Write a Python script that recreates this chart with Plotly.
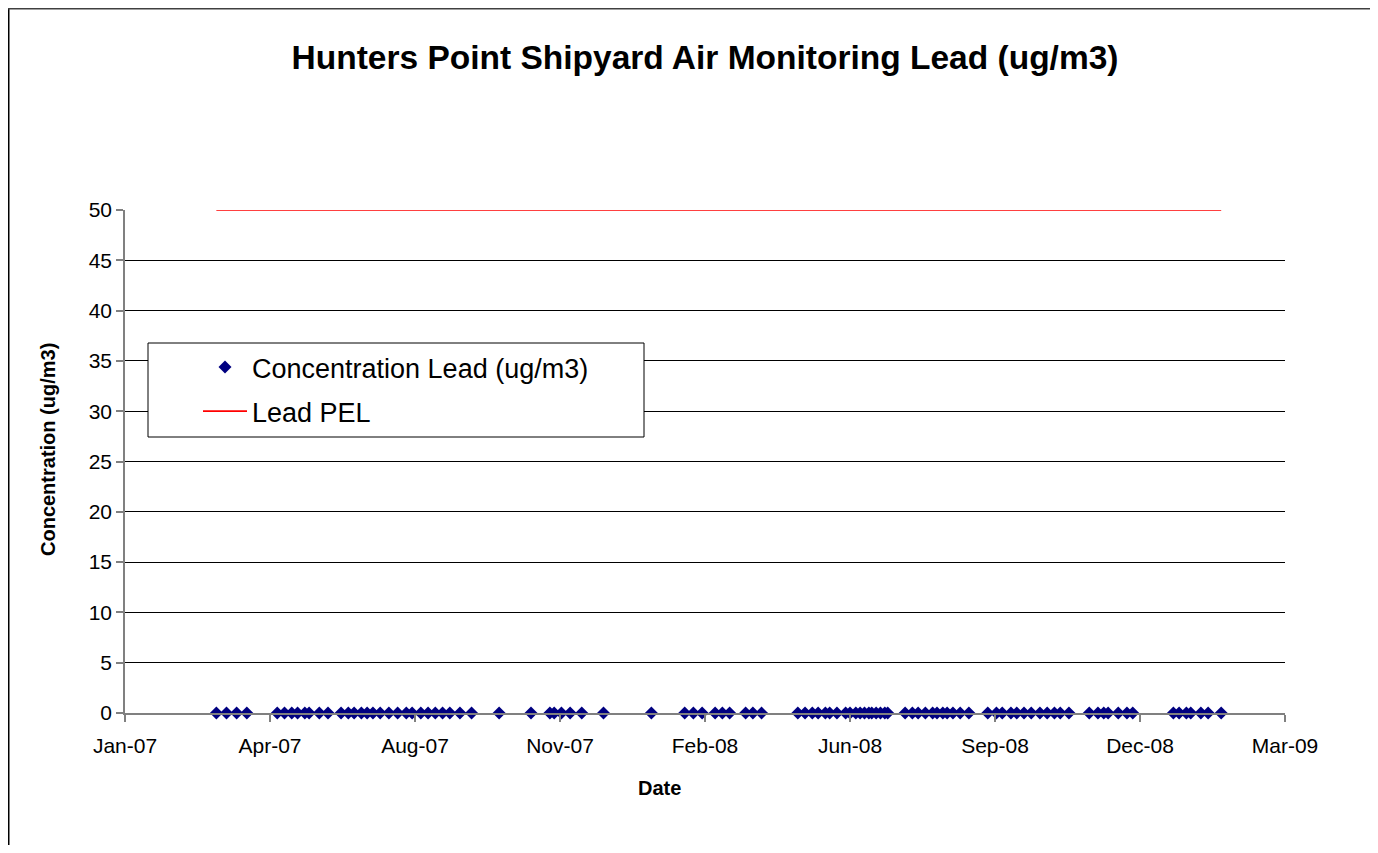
import plotly.graph_objects as go

# ---- data ----
conc_dates = [
    "2007-03-22", "2007-03-29", "2007-04-05", "2007-04-12",
    "2007-05-03", "2007-05-08", "2007-05-13", "2007-05-17", "2007-05-22", "2007-05-25",
    "2007-06-01", "2007-06-07", "2007-06-16", "2007-06-21", "2007-06-25", "2007-06-30",
    "2007-07-04", "2007-07-08", "2007-07-13", "2007-07-19", "2007-07-25", "2007-07-31",
    "2007-08-04", "2007-08-10", "2007-08-15", "2007-08-20", "2007-08-25", "2007-08-30",
    "2007-09-06", "2007-09-14", "2007-10-03",
    "2007-10-25", "2007-11-07", "2007-11-10", "2007-11-15", "2007-11-21", "2007-11-29",
    "2007-12-14", "2008-01-16",
    "2008-02-08", "2008-02-14", "2008-02-20", "2008-02-29", "2008-03-05", "2008-03-10",
    "2008-03-21", "2008-03-26", "2008-04-01",
    "2008-04-26", "2008-05-01", "2008-05-06", "2008-05-10", "2008-05-15", "2008-05-18",
    "2008-05-23", "2008-05-29", "2008-06-01", "2008-06-05", "2008-06-08", "2008-06-11",
    "2008-06-14", "2008-06-16", "2008-06-19", "2008-06-22", "2008-06-25", "2008-06-27",
    "2008-07-09", "2008-07-14", "2008-07-18", "2008-07-23", "2008-07-28", "2008-07-31",
    "2008-08-04", "2008-08-07", "2008-08-11", "2008-08-16", "2008-08-22",
    "2008-09-04", "2008-09-10", "2008-09-14", "2008-09-20", "2008-09-24", "2008-09-29",
    "2008-10-04", "2008-10-10", "2008-10-15", "2008-10-20", "2008-10-24", "2008-10-30",
    "2008-11-13", "2008-11-19", "2008-11-23", "2008-11-26", "2008-12-03", "2008-12-09",
    "2008-12-13",
    "2009-01-10", "2009-01-14", "2009-01-19", "2009-01-22", "2009-01-29", "2009-02-03",
    "2009-02-12",
]
conc_values = [
    0, 0, 0, 0,
    0, 0, 0, 0, 0, 0,
    0, 0, 0, 0, 0, 0,
    0, 0, 0, 0, 0, 0,
    0, 0, 0, 0, 0, 0,
    0, 0, 0,
    0, 0, 0, 0, 0, 0,
    0, 0,
    0, 0, 0, 0, 0, 0,
    0, 0, 0,
    0, 0, 0, 0, 0, 0,
    0, 0, 0, 0, 0, 0,
    0, 0, 0, 0, 0, 0,
    0, 0, 0, 0, 0, 0,
    0, 0, 0, 0, 0,
    0, 0, 0, 0, 0, 0,
    0, 0, 0, 0, 0, 0,
    0, 0, 0, 0, 0, 0,
    0,
    0, 0, 0, 0, 0, 0,
    0,
]
pel_dates = ["2007-03-22", "2009-02-12"]
pel_values = [50, 50]

x_range = ["2007-01-18", "2009-03-28"]
x_tick0 = "2007-01-18"
x_tick_days = 100
y_range = [0, 50]
y_step = 5

title_text = "Hunters Point Shipyard Air Monitoring Lead (ug/m3)"
x_title = "Date"
y_title = "Concentration (ug/m3)"
series_names = ["Concentration Lead (ug/m3)", "Lead PEL"]

FONT = "Liberation Sans, Arial, sans-serif"
OFF = 8                      # page body margin (each side)
W, H = 1378 - 2 * OFF, 853 - 2 * OFF
ML, MT = 125 - OFF, 210 - OFF
MR = (1378 - OFF) - 1285
MB = (853 - OFF) - 713
PW, PH = W - ML - MR, H - MT - MB


def px_x(p):
    """page pixel x -> paper coordinate"""
    return (p - OFF - ML) / PW


def px_y(p):
    """page pixel y -> paper coordinate"""
    return (H - MB - (p - OFF)) / PH


fig = go.Figure()
fig.add_trace(go.Scatter(
    x=conc_dates, y=conc_values, mode="markers", name=series_names[0],
    marker=dict(symbol="diamond", size=10, color="#000080", line=dict(width=0)),
    cliponaxis=False, legendgroup="a",
))
fig.add_trace(go.Scatter(
    x=pel_dates, y=pel_values, mode="lines", name=series_names[1],
    line=dict(color="#FF0000", width=1.7),
    cliponaxis=False, legendgroup="b",
))

fig.update_layout(
    width=W, height=H,
    margin=dict(l=ML, r=MR, t=MT, b=MB, pad=0),
    paper_bgcolor="white", plot_bgcolor="white",
    font=dict(family=FONT, color="black"),
    showlegend=True,
    legend=dict(
        x=px_x(198), y=px_y(343), xanchor="left", yanchor="top",
        bgcolor="rgba(0,0,0,0)", borderwidth=0,
        font=dict(size=27, family=FONT, color="black"),
        traceorder="grouped", tracegroupgap=6, itemwidth=44,
    ),
    title=dict(
        text="<b>" + title_text + "</b>",
        x=0.5, xref="paper", xanchor="center",
        y=1 - (57 - OFF) / H, yref="container", yanchor="middle",
        font=dict(size=33.5, family=FONT, color="black"),
    ),
    xaxis=dict(
        type="date", range=x_range, tick0=x_tick0, dtick=x_tick_days * 86400000,
        tickformat="%b-%y", showgrid=False, zeroline=False,
        showline=True, linecolor="#808080", linewidth=1.5,
        ticks="outside", ticklen=7, tickcolor="#808080", tickwidth=1.5,
        tickfont=dict(size=21, family=FONT, color="black"),
        ticklabelstandoff=6,
    ),
    yaxis=dict(
        range=y_range, dtick=y_step, tick0=0,
        showgrid=True, gridcolor="black", gridwidth=1, zeroline=False,
        showline=True, linecolor="#808080", linewidth=1.5,
        ticks="outside", ticklen=7, tickcolor="#808080", tickwidth=1.5,
        tickfont=dict(size=21, family=FONT, color="black"),
    ),
    shapes=[
        dict(type="rect", xref="paper", yref="paper",
             x0=px_x(148), x1=px_x(644), y0=px_y(437), y1=px_y(343),
             fillcolor="white", line=dict(color="black", width=1), layer="above"),
        dict(type="line", xref="paper", yref="paper",
             x0=px_x(OFF + 0.5), x1=px_x(OFF + 0.5), y0=px_y(OFF), y1=px_y(853 - OFF),
             line=dict(color="black", width=2)),
        dict(type="line", xref="paper", yref="paper",
             x0=px_x(OFF), x1=px_x(1378 - OFF), y0=px_y(OFF + 0.5), y1=px_y(OFF + 0.5),
             line=dict(color="#404040", width=2)),
    ],
    annotations=[
        dict(text="<b>" + x_title + "</b>", xref="paper", yref="paper",
             x=px_x(659), y=px_y(788), xanchor="center", yanchor="middle",
             showarrow=False, font=dict(size=20, family=FONT, color="black")),
        dict(text="<b>" + y_title + "</b>", xref="paper", yref="paper",
             x=px_x(48), y=px_y(450), xanchor="center", yanchor="middle",
             textangle=-90, showarrow=False,
             font=dict(size=20, family=FONT, color="black")),
    ],
)

fig.write_html("out.html")
